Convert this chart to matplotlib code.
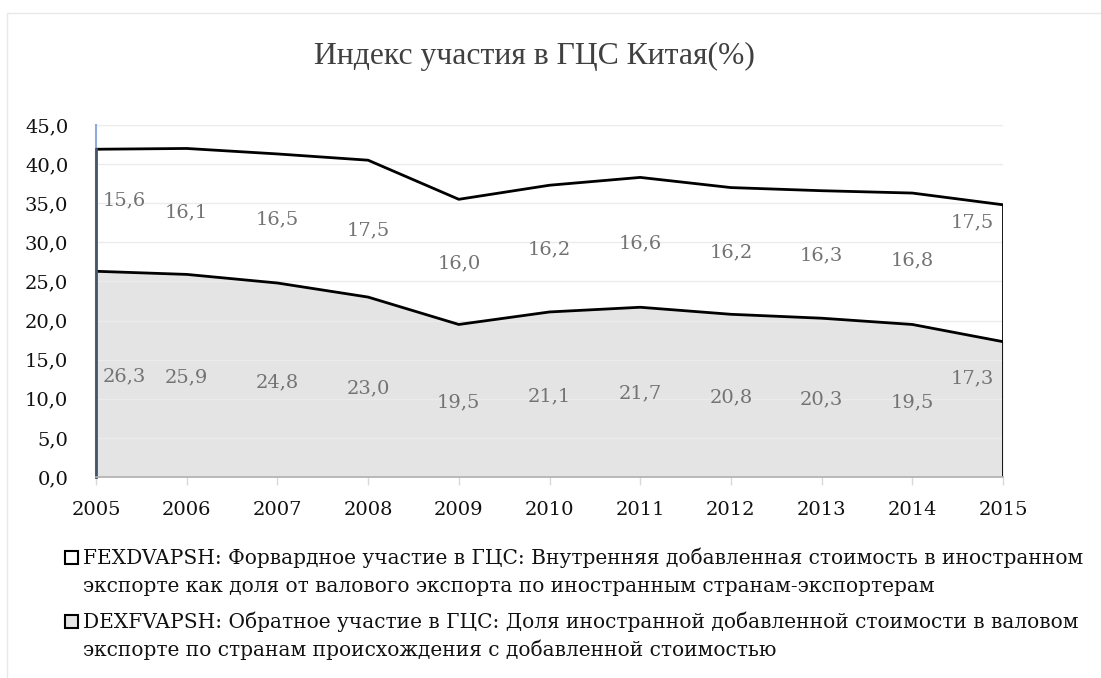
import matplotlib
matplotlib.use("Agg")
import matplotlib.pyplot as plt
from matplotlib.patches import Rectangle
from matplotlib.transforms import offset_copy
import numpy as np

years = [2005, 2006, 2007, 2008, 2009, 2010, 2011, 2012, 2013, 2014, 2015]
backward = [26.3, 25.9, 24.8, 23.0, 19.5, 21.1, 21.7, 20.8, 20.3, 19.5, 17.3]
forward = [15.6, 16.1, 16.5, 17.5, 16.0, 16.2, 16.6, 16.2, 16.3, 16.8, 17.5]
yticks = [0, 5, 10, 15, 20, 25, 30, 35, 40, 45]
title = "Индекс участия в ГЦС Китая(%)"
legend_fwd = ["FEXDVAPSH: Форвардное участие в ГЦС: Внутренняя добавленная стоимость в иностранном",
              "экспорте как доля от валового экспорта по иностранным странам-экспортерам"]
legend_bwd = ["DEXFVAPSH: Обратное участие в ГЦС: Доля иностранной добавленной стоимости в валовом",
              "экспорте по странам происхождения с добавленной стоимостью"]

SERIF = ["DejaVu Serif"]
FILL = "#e4e4e4"
W, H = 1101, 678
fig = plt.figure(figsize=(W / 100, H / 100), dpi=100)
fig.patch.set_facecolor("white")

# outer chart frame
fig.patches.append(Rectangle((7 / W, -0.01), 1.2, 1 - 12.5 / H + 0.01, transform=fig.transFigure,
                             fill=False, edgecolor="#e8e8e8", linewidth=1.0))

L, R, T, B = 96, 1003, 125, 477
ax = fig.add_axes([L / W, 1 - B / H, (R - L) / W, (B - T) / H])
x = np.array(years)
b = np.array(backward)
f = np.array(forward)
top = b + f

ax.fill_between(x, 0, b, color=FILL, linewidth=0, zorder=1)
ax.fill_between(x, b, top, color="white", linewidth=0, zorder=1)
ax.plot(x, b, color="black", linewidth=2, zorder=3)
ax.plot(x, top, color="black", linewidth=2, zorder=3)
ax.plot([x[-1], x[-1]], [0, top[-1]], color="black", linewidth=2, zorder=3)
ax.plot([x[0], x[0]], [0, top[0]], color="#44546a", linewidth=2, zorder=4, clip_on=False)

ax.set_xlim(years[0], years[-1])
ax.set_ylim(0, 45)
ax.set_yticks(yticks)
ax.set_yticklabels([f"{v:.1f}".replace(".", ",") for v in yticks])
ax.set_xticks(years)
ax.set_xticklabels([str(y) for y in years])
for v in yticks[1:]:
    ax.axhline(v, color="#ebebeb", linewidth=1, zorder=2)
for s in ["top", "right"]:
    ax.spines[s].set_visible(False)
ax.spines["left"].set_color("#8faadc")
ax.spines["left"].set_linewidth(1.5)
ax.spines["bottom"].set_color("#b0b0b0")
ax.spines["bottom"].set_linewidth(1.2)
ax.spines["bottom"].set_zorder(4)
ax.tick_params(axis="y", length=0, pad=20, labelsize=14)
ax.tick_params(axis="x", length=6, width=1, color="#d9d9d9", pad=11, labelsize=14)
for lab in ax.get_xticklabels() + ax.get_yticklabels():
    lab.set_family(SERIF)
    lab.set_color("#111111")

# data labels
n = len(years)
for i in range(n):
    if i == 0:
        dx, fb, ft = 28, 0.49, 0.58
    elif i == n - 1:
        dx, fb, ft = -31, 0.73, 0.87
    else:
        dx, fb, ft = 0, 0.49, 0.49
    tr = offset_copy(ax.transData, fig=fig, x=dx, y=0, units="dots")
    ax.text(x[i], b[i] * fb, f"{b[i]:.1f}".replace(".", ","), transform=tr, ha="center", va="center",
            fontsize=14, color="#737373", family=SERIF, zorder=5)
    ax.text(x[i], b[i] + f[i] * ft, f"{f[i]:.1f}".replace(".", ","), transform=tr, ha="center", va="center",
            fontsize=14, color="#737373", family=SERIF, zorder=5)

fig.text(534 / W, 1 - 56 / H, title, ha="center", va="center", fontsize=22.8,
         family=["Liberation Serif"], color="#404040")

# legend
def legend_entry(y0, lines, face):
    fig.patches.append(Rectangle((65 / W, 1 - (y0 + 6) / H), 13 / W, 13 / H, transform=fig.transFigure,
                                 facecolor=face, edgecolor="black", linewidth=1.5))
    for k, t in enumerate(lines):
        fig.text(83 / W, 1 - (y0 + 28 * k) / H, t, ha="left", va="center", fontsize=14.5,
                 family=SERIF, color="#111111")

legend_entry(558, legend_fwd, "white")
legend_entry(622, legend_bwd, FILL)

fig.savefig("out.png", dpi=100)
